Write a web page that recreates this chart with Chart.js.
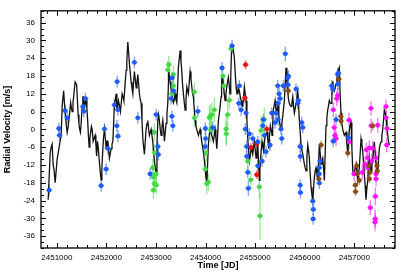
<!DOCTYPE html>
<html>
<head>
<meta charset="utf-8">
<script src="https://cdn.jsdelivr.net/npm/chart.js@4.4.1/dist/chart.umd.min.js"></script>
<style>
  html, body { margin: 0; padding: 0; background: #fff; }
</style>
</head>
<body>
<canvas id="rvChart" width="415" height="277"></canvas>
<script>
// tick labels
const xLabels = [2451000, 2452000, 2453000, 2454000, 2455000, 2456000, 2457000];
const yLabels = [-36, -30, -24, -18, -12, -6, 0, 6, 12, 18, 24, 30, 36];

// model curve (black line)
const modelJD = [
  2450825, 2450845, 2450865, 2450885, 2450905, 2450925, 2450946, 2450966, 2450986, 2451006,
  2451026, 2451046, 2451066, 2451087, 2451107, 2451137, 2451152, 2451167, 2451187, 2451208,
  2451228, 2451248, 2451278, 2451295, 2451308, 2451325, 2451339, 2451355, 2451369, 2451385,
  2451399, 2451414, 2451429, 2451445, 2451460, 2451475, 2451490, 2451510, 2451525, 2451540,
  2451555, 2451571, 2451591, 2451606, 2451621, 2451636, 2451651, 2451666, 2451681, 2451697,
  2451712, 2451732, 2451752, 2451772, 2451787, 2451802, 2451818, 2451833, 2451853, 2451873,
  2451893, 2451908, 2451923, 2451940, 2451960, 2451977, 2451994, 2452011, 2452028, 2452044,
  2452060, 2452078, 2452095, 2452112, 2452129, 2452145, 2452161, 2452178, 2452195, 2452210,
  2452226, 2452242, 2452262, 2452282, 2452299, 2452316, 2452334, 2452351, 2452367, 2452383,
  2452398, 2452411, 2452431, 2452447, 2452464, 2452481, 2452498, 2452515, 2452532, 2452548,
  2452564, 2452581, 2452599, 2452616, 2452633, 2452650, 2452665, 2452683, 2452700, 2452717,
  2452734, 2452750, 2452766, 2452783, 2452800, 2452818, 2452835, 2452851, 2452867, 2452884,
  2452901, 2452918, 2452935, 2452951, 2452968, 2452985, 2453002, 2453019, 2453036, 2453052,
  2453068, 2453085, 2453103, 2453120, 2453137, 2453153, 2453169, 2453186, 2453203, 2453220,
  2453238, 2453258, 2453271, 2453284, 2453300, 2453318, 2453335, 2453351, 2453368, 2453385,
  2453402, 2453419, 2453435, 2453451, 2453470, 2453486, 2453503, 2453520, 2453536, 2453552,
  2453570, 2453587, 2453604, 2453621, 2453637, 2453653, 2453670, 2453687, 2453705, 2453722,
  2453738, 2453754, 2453771, 2453788, 2453805, 2453822, 2453838, 2453855, 2453872, 2453889,
  2453906, 2453923, 2453940, 2453955, 2453972, 2453990, 2454006, 2454024, 2454040, 2454056,
  2454073, 2454091, 2454108, 2454125, 2454141, 2454157, 2454174, 2454191, 2454208, 2454226,
  2454242, 2454258, 2454278, 2454295, 2454312, 2454322, 2454332, 2454345, 2454359, 2454376,
  2454393, 2454410, 2454427, 2454443, 2454459, 2454476, 2454494, 2454507, 2454520, 2454534,
  2454548, 2454564, 2454580, 2454597, 2454615, 2454632, 2454649, 2454665, 2454681, 2454699,
  2454716, 2454733, 2454750, 2454766, 2454782, 2454799, 2454816, 2454833, 2454851, 2454867,
  2454883, 2454900, 2454917, 2454934, 2454951, 2454967, 2454984, 2455001, 2455018, 2455035,
  2455052, 2455068, 2455084, 2455095, 2455105, 2455122, 2455139, 2455156, 2455173, 2455189,
  2455205, 2455222, 2455240, 2455257, 2455274, 2455290, 2455306, 2455323, 2455340, 2455353,
  2455366, 2455384, 2455401, 2455418, 2455435, 2455451, 2455467, 2455477, 2455487, 2455504,
  2455521, 2455538, 2455556, 2455572, 2455588, 2455605, 2455622, 2455639, 2455656, 2455672,
  2455689, 2455706, 2455723, 2455740, 2455758, 2455774, 2455790, 2455807, 2455824, 2455841,
  2455859, 2455875, 2455891, 2455908, 2455925, 2455942, 2455960, 2455976, 2455992, 2456009,
  2456026, 2456043, 2456060, 2456076, 2456092, 2456110, 2456127, 2456144, 2456161, 2456177,
  2456193, 2456210, 2456227, 2456244, 2456262, 2456278, 2456294, 2456311, 2456328, 2456345,
  2456362, 2456379, 2456395, 2456412, 2456429, 2456446, 2456463, 2456479, 2456495, 2456512,
  2456530, 2456547, 2456564, 2456580, 2456596, 2456614, 2456631, 2456648, 2456665, 2456681,
  2456697, 2456711, 2456731, 2456748, 2456766, 2456782, 2456798, 2456815, 2456832, 2456850,
  2456867, 2456883, 2456899, 2456916, 2456933, 2456950, 2456968, 2456984, 2457000, 2457017,
  2457034, 2457051, 2457068, 2457084, 2457100, 2457118, 2457135, 2457152, 2457169, 2457185,
  2457201, 2457218, 2457235, 2457252, 2457270, 2457286, 2457302, 2457319, 2457336, 2457353,
  2457370, 2457387, 2457403, 2457420, 2457437, 2457454, 2457471, 2457488, 2457504, 2457521,
  2457538, 2457555, 2457572, 2457588, 2457604, 2457622, 2457639, 2457656, 2457673, 2457689,
  2457705
];
const modelRV = [
  -23.7, -16, -8, -6, -5, -12, -14, -18, -14, -10,
  -8, -6, -4, -2, 8, 13, 9, 6, 2, -1,
  1, 4, 9, 7, 6, 9, 11, 14, 16, 16,
  15, 10, 5, 2, 0, -1, 2, 8, 11, 11,
  7, 9, 10, 7, 3, -2, -6, -3, -1, 1,
  0, -4, -3, -2, -5, -9, -4, -6, -10, -14,
  -17, -13, -8, -3, 0, -3, -6.5, -4, -4, -7,
  -9.7, -8, -6.5, -5, -4, 2, 8.8, 10, 12, 6.5,
  8, 9.7, 8, 6, 9, 12, 11, 9.7, 13, 17,
  20, 23, 29.5, 26, 22, 19, 16, 14, 12, 16,
  19.5, 17, 14, 16, 18.5, 15, 12, 10, 8.8, 3,
  -3.2, -6, -8.4, -4, 0, 2, 3, 0, -2, -1,
  0, -2, -4.2, -8, -10.7, -13, -15, -5, 3, 5,
  3, 0, -2, 1, 3, 0, -4, -1, 2, 5,
  9, 19.5, 18, 16, 14, 12, 10, 9, 10, 12,
  10, 9, 14, 21, 24, 26.6, 23, 19.5, 15, 12,
  9, 6.5, 10, 14.3, 13, 12, 16, 19.5, 17, 14.3,
  12, 11, 7, 3, 1, 0, -1, -2, -1, 0,
  -2, -4.2, -6, -7.5, -10, -13, -16, -18.5, -12, -5,
  -2, 0, -1, -2, -3, -4, -2, 0, -3, -6.5,
  -2, 3, 5.5, 8, 11, 15, 18.5, 17, 15.3, 12,
  9.7, 12, 14.3, 16, 17.5, 15, 12, 18, 25, 27,
  28, 26, 24, 19, 14.3, 12, 12, 13.5, 13, 11,
  9.7, 8, 7.8, 11, 14.3, 12, 9.7, 3, -3.2, -7,
  -10.7, -9, -6.5, -7, -8.4, -6, -4.2, -7, -9.7, -7,
  -5.2, -11, -17.2, -14, -10.7, -7, -4.2, -6, -7.5, -4,
  -2, -1.5, -1, -4, -6.5, -2, 1.3, 0, -2, 2,
  6.5, 8, 9.7, 7, 5.5, 7, 8.8, 5, 3.2, 1,
  0, 2, 4.5, 7, 9.7, 15, 20.8, 16, 13, 10,
  8.8, 8, 7.8, 9, 11, 8, 5.5, 7, 8.8, 11,
  13, 8, 3.2, -1, -5.2, -7, -8.4, -10, -11.7, -13,
  -14, -9, -5.2, -7, -9.7, -15, -19.5, -22, -24.5, -20,
  -16.2, -14, -13, -15, -17.2, -11, -5.2, -8, -11.7, -10.5,
  -9.7, -13, -17.2, -8, 1.3, 4, 6.5, 8, 9.7, 9,
  8.8, 12, 16.2, 14, 13, 14, 15.3, 17, 19.5, 20,
  20.8, 13, 5.5, 2, 0, -1, -2, -1.5, -1, -5,
  -8.4, -4, 0, 1.5, 2.3, -6, -14, -14.5, -15, -13,
  -11.7, -14, -17.2, -15, -13, -8, -3.2, -5, -7.5, -11,
  -15, -19, -23.7, -20, -17.2, -13, -9.7, -12, -14, -12,
  -10.7, -7, -4.2, -8, -11.7, -13, -15, -10, -6.5, -5,
  -4.2, -2, 0, 3, 6.5, 5.5, 4.5, 1, -2, -4,
  -5.2
];

// measurements: [JD, RV, error]
const blueData = [
  [2450845, -20.5, 2], [2451040, 0.3, 2], [2451052, -2, 2], [2451167, 6.3, 2], [2451208, 3.9, 2],
  [2451524, 7.7, 2], [2451544, 6.1, 2], [2451577, 10.4, 2], [2451893, -19, 2], [2451960, 0.1, 2],
  [2451994, -13.4, 2], [2452028, -6.4, 2], [2452161, 8.2, 2], [2452216, 16.1, 2], [2452230, 6.6, 2],
  [2452210, 1.2, 2], [2452232, -2.3, 2], [2452564, 22.6, 2], [2452633, 3.9, 2], [2452881, -15, 2],
  [2453002, 5, 2], [2453036, -5.8, 2], [2453048, -8.5, 2], [2453325, 17.4, 2], [2453351, 13, 2],
  [2453304, 10.4, 2], [2453321, 4.4, 2], [2453339, 1.2, 2], [2453843, 6.1, 2], [2453996, 0.3, 2],
  [2454000, -3.1, 2], [2453990, -5.8, 2], [2454145, 0.6, 2], [2454332, 20.7, 2], [2454534, 28.2, 2],
  [2454681, 14.7, 2], [2454669, 8.8, 2], [2454716, 6.6, 2], [2454816, 5.5, 2], [2454802, 0.1, 2],
  [2454883, -1.5, 2], [2454951, -3.1, 2], [2454830, -9.1, 2], [2454851, -14.5, 2], [2454863, -19.9, 2.5],
  [2454826, -5.8, 2], [2455052, -4.2, 2], [2455152, 1.2, 2], [2455185, -2, 2], [2455219, -7.5, 2],
  [2455139, -10.7, 2], [2455052, -12.3, 2], [2455165, 3.3, 2], [2455300, -5.3, 2], [2455334, 5.5, 2],
  [2455401, 2.3, 2], [2455421, 5.5, 2], [2455455, 14.7, 2], [2455458, 8.8, 2], [2455462, 3.3, 2],
  [2455482, 12, 2], [2455502, 10.4, 2], [2455521, 0.1, 2], [2455536, -3.1, 2], [2455568, 14.7, 2],
  [2455608, 25.5, 2.5], [2455656, 17.4, 2], [2455669, 18, 2], [2455663, 15, 2], [2455824, 13.6, 2],
  [2455859, 8.8, 2], [2455871, 9.8, 2], [2455939, 2.3, 2], [2455960, 0.6, 2], [2455907, -5.8, 2],
  [2455912, -9.1, 2], [2455907, -18.8, 2], [2455912, -21.3, 2], [2456161, -24.2, 2], [2456173, -27, 2],
  [2456169, -30.2, 2], [2456294, -12.9, 2], [2456290, -15, 2], [2456308, -10.7, 2], [2456294, -18.1, 2],
  [2456564, 13.6, 2], [2456576, -4, 2], [2456665, 18.5, 2], [2456670, 15.3, 2], [2456677, 19, 2],
  [2456631, 3.3, 2], [2456882, -2.8, 2], [2456544, 14.7, 2]
];
const greenData = [
  [2452935, -12.9, 3], [2452947, -16.1, 3], [2452968, -18.3, 3], [2452947, -20.5, 3], [2452968, -1, 3],
  [2452972, -8, 3], [2453002, -15, 3], [2453006, -18.8, 3], [2453258, 21.8, 3], [2453238, 20.1, 3],
  [2453351, 18.5, 3], [2453351, 14.7, 3], [2453318, 12, 3], [2453774, 12.6, 3], [2453774, 3.9, 3],
  [2453996, -13.4, 3], [2454024, -18.3, 3.5], [2454010, -8, 3], [2454056, -17.8, 3], [2454091, 4.4, 4],
  [2454077, 3.9, 4], [2454105, -0.3, 4], [2454177, 6.6, 4], [2454125, 5, 4], [2454347, 18, 3],
  [2454365, 14.7, 3], [2454413, 0.1, 5], [2454418, -1.5, 4], [2454446, 5, 5], [2454480, 9.8, 3],
  [2454514, 27.2, 2], [2454851, -10.7, 3], [2454911, -17, 3], [2455084, -19.4, 4], [2455098, -29.2, 8],
  [2455119, -0.4, 5], [2455185, 3.3, 4]
];
const redData = [
  [2454806, 21.8, 1.5], [2454792, 10.6, 1.5], [2454917, -6.1, 1.5], [2455032, -4.8, 1.5],
  [2455032, -15.3, 1.5], [2455234, 0.1, 1.5]
];
const brownData = [
  [2455669, 13, 1.5], [2456284, -16.7, 1.5], [2456328, -5.3, 1.5], [2456687, 17, 1.5], [2456727, 4.4, 1.5],
  [2456731, 2.8, 1.5], [2456867, -8, 1.5], [2457048, -12.3, 1.5], [2457020, -18.8, 1.5], [2457024, -21, 1.5],
  [2457100, -17.2, 1.5], [2457064, -15, 1.5], [2457290, -12.3, 1.5], [2457302, -16.7, 1.5], [2457316, -14.5, 1.5],
  [2457370, 1.2, 1.5], [2457457, -12.3, 1.5], [2457463, -14, 1.5]
];
const magentaData = [
  [2456576, 6.6, 2.5], [2456596, 0.6, 2.5], [2456631, -3.1, 2.5], [2456645, 10.4, 2.5], [2456665, 11.5, 2.5],
  [2456611, -2, 2.5], [2456893, 3.1, 2.5], [2456893, -4.2, 2.5], [2456994, -15, 2.5], [2457161, -14.5, 2.5],
  [2457215, -11.7, 2.5], [2457242, -6.9, 2.5], [2457270, -9.6, 2.5], [2457274, -12.9, 2.5], [2457302, -6.2, 2.5],
  [2457322, -26.4, 2.5], [2457336, 7.1, 2.5], [2457340, 1.2, 2.5], [2457350, -10.7, 2.5], [2457370, -6.4, 2.5],
  [2457423, -22.6, 3], [2457423, -30.2, 3], [2457417, -31.3, 3], [2457437, -9.6, 2.5], [2457437, -16.7, 2.5],
  [2457437, -15, 2.5], [2457471, 1.4, 2.5], [2457639, 7.7, 2.5], [2457639, 3.9, 2.5], [2457659, 0.3, 2.5],
  [2457652, -5.3, 2.5]
];

const FONT = 'Liberation Sans, Arial, Helvetica, sans-serif';

function pts(arr) {
  return arr.map(p => ({ x: p[0], y: p[1], e: p[2] }));
}

function pointSet(arr, color, barColor) {
  return {
    data: pts(arr),
    showLine: false,
    pointRadius: 2.4,
    pointBorderWidth: 0,
    backgroundColor: color,
    borderColor: color,
    barColor: barColor,
    order: 1
  };
}

//Fehlerbalken unter den Punkten
const errorBars = {
  id: 'errorBars',
  beforeDatasetsDraw(chart) {
    const ctx = chart.ctx;
    const xs = chart.scales.x, ys = chart.scales.y;
    const a = chart.chartArea;
    ctx.save();
    ctx.beginPath();
    ctx.rect(a.left, a.top, a.right - a.left, a.bottom - a.top);
    ctx.clip();
    chart.data.datasets.forEach(ds => {
      if (!ds.barColor) return;
      ctx.strokeStyle = ds.barColor;
      ctx.lineWidth = 1.4;
      ds.data.forEach(p => {
        const px = xs.getPixelForValue(p.x);
        const y1 = ys.getPixelForValue(p.y - p.e);
        const y2 = ys.getPixelForValue(p.y + p.e);
        const py = ys.getPixelForValue(p.y);
        ctx.beginPath();
        ctx.moveTo(px, y1);
        ctx.lineTo(px, y2);
        ctx.moveTo(px - 3, py);
        ctx.lineTo(px + 3, py);
        ctx.stroke();
      });
    });
    ctx.restore();
  }
};

//Rahmen und Ticks nach innen
const frame = {
  id: 'frame',
  afterDraw(chart) {
    const ctx = chart.ctx;
    const xs = chart.scales.x, ys = chart.scales.y;
    const a = chart.chartArea;
    ctx.save();
    ctx.strokeStyle = '#000';
    ctx.lineWidth = 1;
    ctx.beginPath();
    for (let v = Math.ceil(xs.min / 200) * 200; v <= xs.max; v += 200) {
      const px = Math.round(xs.getPixelForValue(v)) + 0.5;
      const len = v % 1000 === 0 ? 5 : 3;
      ctx.moveTo(px, a.bottom); ctx.lineTo(px, a.bottom - len);
      ctx.moveTo(px, a.top); ctx.lineTo(px, a.top + len);
    }
    for (let v = Math.ceil(ys.min / 2) * 2; v <= ys.max; v += 2) {
      const py = Math.round(ys.getPixelForValue(v)) + 0.5;
      const len = v % 6 === 0 ? 5 : 3;
      ctx.moveTo(a.left, py); ctx.lineTo(a.left + len, py);
      ctx.moveTo(a.right, py); ctx.lineTo(a.right - len, py);
    }
    ctx.stroke();
    ctx.lineWidth = 1.3;
    ctx.strokeRect(a.left, a.top, a.right - a.left, a.bottom - a.top);
    ctx.restore();
  }
};

const modelPoints = modelJD.map((t, i) => ({ x: t, y: modelRV[i] }));

const rvChart = new Chart(document.getElementById('rvChart').getContext('2d'), {
  type: 'scatter',
  data: {
    datasets: [
      pointSet(blueData, '#1f5cff', 'rgba(31,92,255,0.55)'),
      pointSet(greenData, '#45d845', 'rgba(69,216,69,0.55)'),
      pointSet(redData, '#ee1010', 'rgba(238,16,16,0.55)'),
      pointSet(brownData, '#8a4a12', 'rgba(138,74,18,0.55)'),
      pointSet(magentaData, '#ff10ff', 'rgba(255,16,255,0.55)'),
      {
        data: modelPoints,
        showLine: true,
        borderColor: '#111',
        borderWidth: 1.3,
        pointRadius: 0,
        tension: 0,
        order: 5
      }
    ]
  },
  options: {
    responsive: false,
    animation: false,
    devicePixelRatio: 1,
    layout: { padding: { top: 3, right: 20, left: 0, bottom: 0 } },
    plugins: { legend: { display: false }, tooltip: { enabled: false } },
    scales: {
      x: {
        type: 'linear',
        min: 2450680,
        max: 2457820,
        grid: { display: false, drawTicks: false },
        border: { display: false },
        afterBuildTicks: s => { s.ticks = xLabels.map(v => ({ value: v })); },
        ticks: {
          font: { family: FONT, size: 8 },
          color: '#000',
          padding: 5,
          maxRotation: 0,
          autoSkip: false,
          callback: v => String(v)
        },
        title: {
          display: true,
          text: 'Time [JD]',
          color: '#000',
          font: { family: FONT, size: 9, weight: 'bold' },
          padding: { top: 0, bottom: 6 }
        },
        afterFit: s => { s.height = 29; }
      },
      y: {
        min: -40,
        max: 40,
        grid: { display: false, drawTicks: false },
        border: { display: false },
        afterBuildTicks: s => { s.ticks = yLabels.map(v => ({ value: v })); },
        ticks: {
          font: { family: FONT, size: 8 },
          color: '#000',
          padding: 6,
          autoSkip: false,
          callback: v => String(v)
        },
        title: {
          display: true,
          text: 'Radial Velocity [m/s]',
          color: '#000',
          font: { family: FONT, size: 9, weight: 'bold' },
          padding: { top: 2, bottom: 0 }
        },
        afterFit: s => { s.width = 41; }
      }
    }
  },
  plugins: [errorBars, frame]
});
</script>
</body>
</html>
